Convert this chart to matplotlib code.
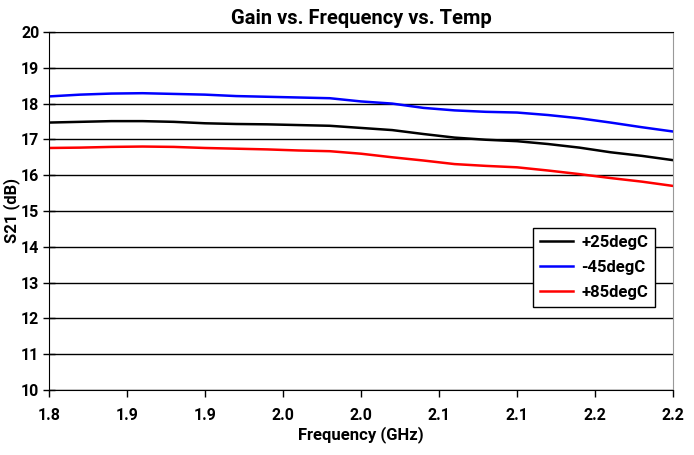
import matplotlib
matplotlib.use("Agg")
import matplotlib.pyplot as plt

freq = [1.80, 1.82, 1.84, 1.86, 1.88, 1.90, 1.92, 1.94, 1.96, 1.98, 2.00,
        2.02, 2.04, 2.06, 2.08, 2.10, 2.12, 2.14, 2.16, 2.18, 2.20]

s21_p25 = [17.47, 17.49, 17.51, 17.51, 17.49, 17.45, 17.43, 17.42, 17.40, 17.38, 17.32,
           17.26, 17.15, 17.05, 16.99, 16.95, 16.87, 16.77, 16.64, 16.54, 16.42]
s21_m45 = [18.20, 18.25, 18.28, 18.29, 18.27, 18.25, 18.21, 18.19, 18.17, 18.15, 18.06,
           18.00, 17.88, 17.81, 17.77, 17.75, 17.68, 17.59, 17.47, 17.34, 17.22]
s21_p85 = [16.76, 16.77, 16.79, 16.80, 16.79, 16.76, 16.74, 16.72, 16.69, 16.67, 16.60,
           16.50, 16.41, 16.31, 16.26, 16.22, 16.13, 16.03, 15.92, 15.82, 15.70]

xticks = [1.80, 1.85, 1.90, 1.95, 2.00, 2.05, 2.10, 2.15, 2.20]
xlabels = ["1.8", "1.9", "1.9", "2.0", "2.0", "2.1", "2.1", "2.2", "2.2"]
yticks = list(range(10, 21))

plt.rcParams['font.family'] = ['Roboto', 'DejaVu Sans']
plt.rcParams['font.weight'] = 'bold'

fig = plt.figure(figsize=(6.94, 4.55), dpi=100)
ax = fig.add_axes([0.0706, 0.1429, 0.8991, 0.7868])

ax.plot(freq, s21_p25, color='black', lw=1.8, label='+25degC')
ax.plot(freq, s21_m45, color='#0000ff', lw=1.8, label='-45degC')
ax.plot(freq, s21_p85, color='#ff0000', lw=1.8, label='+85degC')

ax.set_xlim(1.8, 2.2)
ax.set_ylim(10, 20)
ax.set_xticks(xticks)
ax.set_xticklabels(xlabels)
ax.set_yticks(yticks)
ax.yaxis.grid(True, color='black', lw=1)
ax.set_axisbelow(True)

for lab in ax.get_xticklabels() + ax.get_yticklabels():
    lab.set_fontweight('bold')
    lab.set_fontsize(11.5)
ax.tick_params(axis='x', direction='out', length=5, width=1, pad=8)
ax.tick_params(axis='y', direction='inout', length=8, width=1, pad=3)

ax.spines['left'].set_color('black')
ax.spines['bottom'].set_color('black')
ax.spines['top'].set_color('black')
ax.spines['right'].set_color('#999999')

ax.set_title('Gain vs. Frequency vs. Temp', fontsize=14.5, fontweight='bold', pad=6)
ax.set_xlabel('Frequency (GHz)', fontsize=12, fontweight='bold', labelpad=2)
ax.set_ylabel('S21 (dB)', fontsize=12, fontweight='bold', labelpad=1)

leg = ax.legend(loc='upper left', bbox_to_anchor=(0.776, 0.452), fancybox=False,
                edgecolor='black', framealpha=1, fontsize=12, handlelength=2.0,
                borderpad=0.4, labelspacing=0.6, handletextpad=0.5,
                borderaxespad=0)
leg.get_frame().set_linewidth(1)
for t in leg.get_texts():
    t.set_fontweight('bold')

fig.savefig('out.png', dpi=100)
